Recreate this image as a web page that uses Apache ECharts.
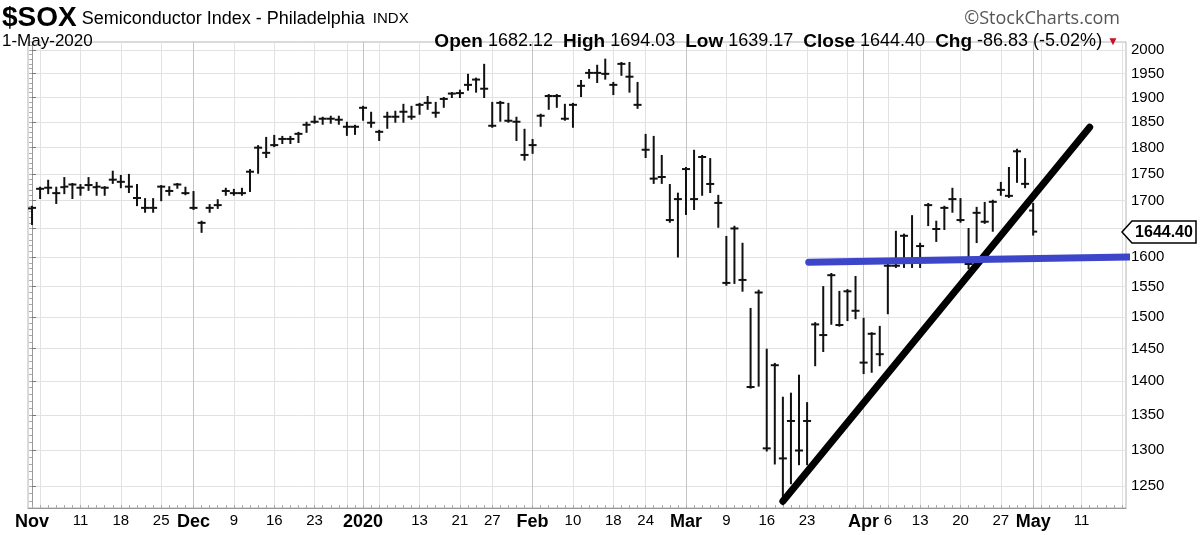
<!DOCTYPE html>
<html>
<head>
<meta charset="utf-8">
<title>$SOX Semiconductor Index</title>
<script src="https://cdn.jsdelivr.net/npm/echarts@6/dist/echarts.min.js"></script>
<style>
html, body { margin: 0; padding: 0; background: #fff; }
#chart { width: 1200px; height: 535px; }
</style>
</head>
<body>
<div id="chart"></div>
<script>
// trading calendar, Nov 1 2019 .. May 1 2020 with data, then empty days up to May 18
const holidays = ['2019-11-28', '2019-12-25', '2020-01-01', '2020-01-20', '2020-02-17', '2020-04-10'];
function tradingDays(from, to) {
    const out = [];
    const d = new Date(from + 'T00:00:00Z');
    const end = new Date(to + 'T00:00:00Z');
    while (d <= end) {
        const s = d.toISOString().slice(0, 10);
        const wd = d.getUTCDay();
        if (wd !== 0 && wd !== 6 && holidays.indexOf(s) < 0) out.push(s);
        d.setUTCDate(d.getUTCDate() + 1);
    }
    return out;
}
const dates = tradingDays('2019-11-01', '2020-05-18');

// daily bars
const open = [1686,1722,1724,1714,1725,1730,1724,1729,1725,1724,1739,1735,1726,1705,1687,1687,1726,1718,1730,1714,
    1687,1660,1687,1692,1718,1714,1714,1754,1800,1790,1805,1817,1817,1827,1845,1851,1857,1857,1855,1841,
    1841,1879,1849,1831,1861,1861,1871,1861,1885,1889,1869,1897,1908,1909,1926,1937,1918,1843,1889,1853,
    1851,1786,1805,1863,1903,1903,1857,1885,1924,1951,1951,1949,1926,1970,1943,1885,1796,1741,1744,1665,
    1703,1759,1703,1782,1731,1696,1556,1650,1561,1391,1540,1302,1424,1288,1341,1299,1341,1488,1471,1569,
    1487,1542,1510,1428,1473,1441,1585,1585,1637,1592,1619,1692,1649,1687,1703,1665,1588,1678,1662,1698,
    1720,1709,1793,1731.23,1682.12];
const high = [1689,1724,1737,1724,1742,1731,1729,1742,1733,1725,1754,1746,1748,1729,1703,1703,1727,1725,1731,1724,
    1716,1662,1692,1701,1722,1720,1722,1757,1803,1819,1823,1821,1821,1829,1849,1861,1859,1861,1861,1849,
    1843,1881,1869,1833,1869,1871,1885,1881,1887,1901,1889,1899,1909,1914,1947,1939,1968,1889,1891,1887,
    1859,1835,1815,1865,1905,1905,1885,1887,1934,1957,1966,1979,1930,1972,1972,1930,1825,1821,1784,1729,
    1713,1761,1794,1784,1778,1709,1635,1653,1623,1513,1543,1448,1426,1375,1381,1408,1367,1490,1549,1571,
    1541,1544,1566,1497,1474,1484,1590,1644,1639,1672,1623,1694,1662,1689,1722,1703,1649,1687,1696,1700,
    1733,1761,1796,1778,1694.03];
const low = [1658,1705,1714,1696,1714,1705,1711,1720,1711,1711,1733,1725,1716,1692,1680,1680,1701,1711,1724,1712,
    1685,1644,1680,1687,1711,1711,1711,1718,1752,1782,1803,1809,1809,1811,1831,1849,1847,1849,1847,1825,
    1827,1855,1841,1815,1839,1851,1851,1857,1867,1877,1861,1881,1901,1901,1916,1912,1901,1841,1853,1851,
    1815,1777,1790,1843,1877,1881,1855,1841,1903,1941,1932,1939,1907,1947,1912,1879,1782,1733,1733,1662,
    1601,1676,1685,1711,1716,1653,1553,1556,1543,1390,1393,1299,1281,1226,1254,1280,1280,1424,1446,1489,
    1486,1495,1498,1412,1414,1424,1506,1583,1583,1583,1583,1656,1628,1649,1680,1662,1581,1626,1660,1646,
    1711,1707,1735,1725,1639.17];
const close = [1687,1722,1724,1714,1726,1730,1724,1729,1726,1724,1739,1735,1726,1705,1687,1687,1726,1718,1730,1714,
    1687,1660,1687,1692,1718,1714,1714,1754,1800,1790,1805,1817,1817,1827,1845,1851,1857,1857,1855,1841,
    1841,1879,1849,1831,1861,1861,1871,1861,1885,1889,1869,1897,1908,1909,1926,1937,1918,1843,1889,1853,
    1851,1786,1805,1863,1903,1903,1857,1885,1924,1951,1951,1949,1926,1970,1943,1885,1796,1741,1744,1665,
    1703,1759,1703,1782,1731,1696,1556,1650,1561,1391,1540,1302,1424,1288,1341,1299,1341,1488,1471,1569,
    1487,1542,1510,1428,1473,1441,1585,1585,1637,1592,1619,1692,1649,1687,1703,1665,1588,1678,1662,1698,
    1720,1709,1793,1731.23,1644.40];

// axis ticks
const priceTicks = [1250,1300,1350,1400,1450,1500,1550,1600,1650,1700,1750,1800,1850,1900,1950,2000];
const priceLabels = [1250,1300,1350,1400,1450,1500,1550,1600,1700,1750,1800,1850,1900,1950,2000];
const dateLabels = [
    ['2019-11-01','Nov'],['2019-11-11','11'],['2019-11-18','18'],['2019-11-25','25'],
    ['2019-12-02','Dec'],['2019-12-09','9'],['2019-12-16','16'],['2019-12-23','23'],
    ['2020-01-02','2020'],['2020-01-13','13'],['2020-01-21','21'],['2020-01-27','27'],
    ['2020-02-03','Feb'],['2020-02-10','10'],['2020-02-18','18'],['2020-02-24','24'],
    ['2020-03-02','Mar'],['2020-03-09','9'],['2020-03-16','16'],['2020-03-23','23'],
    ['2020-04-01','Apr'],['2020-04-06','6'],['2020-04-13','13'],['2020-04-20','20'],['2020-04-27','27'],
    ['2020-05-01','May'],['2020-05-11','11']
];

// hand-drawn trend lines [date, price]
const supportLine = [['2020-03-23', 1591], ['2020-05-18', 1600]];
const trendLine = [['2020-03-18', 1230], ['2020-05-12', 1840]];

const LN = Math.log;
const idx = d => dates.indexOf(d);
const N = dates.length;

// first trading day of each week / month
const weekIdx = [], monthIdx = [];
dates.forEach((d, i) => {
    if (i === 0) { monthIdx.push(0); return; }
    const prev = new Date(dates[i - 1] + 'T00:00:00Z');
    const cur = new Date(d + 'T00:00:00Z');
    if (cur.getUTCDay() < prev.getUTCDay() || (cur - prev) > 4 * 86400000) weekIdx.push(i);
    if (d.slice(5, 7) !== dates[i - 1].slice(5, 7)) monthIdx.push(i);
});
const dayIdx = dates.map((d, i) => i);
const minorPrice = [];
for (let v = 1230; v <= 2010; v += 10) minorPrice.push(v);
const labelText = {};
dateLabels.forEach(p => { labelText[idx(p[0])] = p[1]; });

const bars = close.map((c, i) => [i, LN(open[i]), LN(high[i]), LN(low[i]), LN(c)]);
const last = close.length - 1;
const chg = close[last] - close[last - 1];
const chgPct = chg / close[last - 1] * 100;

function renderBar(params, api) {
    const i = api.value(0);
    const pO = api.coord([i, api.value(1)]);
    const pH = api.coord([i, api.value(2)]);
    const pL = api.coord([i, api.value(3)]);
    const pC = api.coord([i, api.value(4)]);
    const t = 4;
    const style = { stroke: '#111', lineWidth: 2 };
    return {
        type: 'group',
        children: [
            { type: 'line', shape: { x1: pH[0], y1: pH[1] - 1, x2: pL[0], y2: pL[1] + 1 }, style: style },
            { type: 'line', shape: { x1: pO[0] - t, y1: pO[1], x2: pO[0], y2: pO[1] }, style: style },
            { type: 'line', shape: { x1: pC[0], y1: pC[1], x2: pC[0] + t, y2: pC[1] }, style: style }
        ]
    };
}

function renderLastPrice(params, api) {
    const p = api.coord([api.value(0), api.value(1)]);
    const xr = params.coordSys.x + params.coordSys.width;
    const y = Math.round(p[1]);
    return {
        type: 'group',
        children: [
            { type: 'polygon', shape: { points: [[xr - 4, y], [xr + 6, y - 11], [xr + 70, y - 11], [xr + 70, y + 11], [xr + 6, y + 11]] },
              style: { fill: '#fff', stroke: '#000', lineWidth: 1.5 } },
            { type: 'text', style: { x: xr + 38, y: y + 1, text: close[last].toFixed(2), align: 'center', verticalAlign: 'middle',
              font: 'bold 16px "Liberation Sans", Arial, sans-serif', fill: '#000' } }
        ]
    };
}

const chart = echarts.init(document.getElementById('chart'));
const axisFont = '"Liberation Sans", Arial, sans-serif';
const fmt = v => v.toFixed(2);

chart.setOption({
    animation: false,
    backgroundColor: '#fff',
    title: [
        {
            text: '{a|$SOX} {b|Semiconductor Index - Philadelphia} {c|INDX}',
            left: 2, top: 4, padding: 0,
            textStyle: {
                rich: {
                    a: { fontFamily: axisFont, fontSize: 28, fontWeight: 'bold', color: '#000' },
                    b: { fontFamily: axisFont, fontSize: 18, fontWeight: 'normal', color: '#000', padding: [2, 0, 0, 0] },
                    c: { fontFamily: axisFont, fontSize: 15, fontWeight: 'normal', color: '#000', padding: [2, 0, 0, 3] }
                }
            }
        },
        {
            text: '1-May-2020', left: 2, top: 33, padding: 0,
            textStyle: { fontFamily: axisFont, fontSize: 17, fontWeight: 'normal', color: '#000' }
        },
        {
            text: '{k|Open} {v|' + fmt(open[last]) + '}  {k|High} {v|' + fmt(high[last]) + '}  {k|Low} {v|' + fmt(low[last]) +
                '}  {k|Close} {v|' + fmt(close[last]) + '}  {k|Chg} {v|' + fmt(chg) + ' (' + fmt(chgPct) + '%)} {r|▼}',
            right: 76, top: 27,
            textStyle: {
                rich: {
                    k: { fontFamily: axisFont, fontSize: 19, fontWeight: 'bold', color: '#000' },
                    v: { fontFamily: axisFont, fontSize: 18, fontWeight: 'normal', color: '#000' },
                    r: { fontFamily: axisFont, fontSize: 12, fontWeight: 'normal', color: '#c8102e' }
                }
            }
        },
        {
            text: '©StockCharts.com', right: 75, top: 5,
            textStyle: { fontFamily: '"Open Sans", sans-serif', fontSize: 18, fontWeight: 'normal', color: '#555' }
        }
    ],
    grid: { left: 28, right: 74, top: 42, bottom: 27, show: true, borderColor: '#b5b5b5', borderWidth: 1 },
    xAxis: [
        {
            type: 'value', min: -0.5, max: N - 0.5, position: 'bottom',
            axisLine: { show: true, lineStyle: { color: '#999' } },
            axisTick: { show: false, customValues: weekIdx },
            splitLine: { show: true, lineStyle: { color: '#e2e2e2', width: 1 } },
            axisLabel: {
                customValues: dateLabels.map(p => idx(p[0])),
                margin: 5,
                formatter: v => {
                    const s = labelText[Math.round(v)] || '';
                    return /^[A-Z2]/.test(s) && s.length > 2 ? '{b|' + s + '}' : '{n|' + s + '}';
                },
                rich: {
                    b: { fontFamily: axisFont, fontSize: 18, fontWeight: 'bold', color: '#000' },
                    n: { fontFamily: axisFont, fontSize: 15, color: '#000' }
                }
            }
        },
        {
            type: 'value', min: -0.5, max: N - 0.5, position: 'bottom',
            axisLine: { show: false }, axisLabel: { show: false },
            axisTick: { show: false, customValues: monthIdx },
            splitLine: { show: true, lineStyle: { color: '#c4c4c4', width: 1 } }
        },
        {
            type: 'value', min: -0.5, max: N - 0.5, position: 'bottom',
            axisLine: { show: false }, axisLabel: { show: false }, splitLine: { show: false },
            axisTick: { show: true, inside: true, length: 3, customValues: dayIdx, lineStyle: { color: '#aaa' } }
        }
    ],
    yAxis: [
        {
            type: 'value', position: 'right', min: LN(1221), max: LN(2017),
            axisLine: { show: true, lineStyle: { color: '#999' } },
            axisTick: { show: true, length: 4, customValues: priceTicks.map(LN), lineStyle: { color: '#777' } },
            splitLine: { show: true, lineStyle: { color: '#e2e2e2', width: 1 } },
            axisLabel: {
                customValues: priceLabels.map(LN), margin: 5,
                formatter: v => String(Math.round(Math.exp(v))),
                fontFamily: axisFont, fontSize: 15, color: '#000'
            }
        },
        {
            type: 'value', position: 'right', offset: 0, min: LN(1221), max: LN(2017),
            axisLine: { show: false }, axisLabel: { show: false }, splitLine: { show: false },
            axisTick: { show: true, inside: true, length: 3, customValues: minorPrice.map(LN), lineStyle: { color: '#aaa' } }
        }
    ],
    series: [
        {
            name: '$SOX', type: 'custom', xAxisIndex: 0, yAxisIndex: 0,
            renderItem: renderBar, data: bars, encode: { x: 0, y: [1, 2, 3, 4] }, z: 3
        },
        {
            name: 'trend', type: 'line', xAxisIndex: 0, yAxisIndex: 0, symbol: 'none', z: 4,
            data: trendLine.map(p => [idx(p[0]), LN(p[1])]),
            lineStyle: { color: '#000', width: 7, cap: 'round' }
        },
        {
            name: 'support', type: 'line', xAxisIndex: 0, yAxisIndex: 0, symbol: 'none', z: 5, clip: false,
            data: [[idx(supportLine[0][0]) + 0.2, LN(supportLine[0][1])], [idx(supportLine[1][0]) + 0.9, LN(supportLine[1][1])]],
            lineStyle: { color: '#3d46c9', width: 7, cap: 'round' }
        },
        {
            name: 'last', type: 'custom', xAxisIndex: 0, yAxisIndex: 0, z: 6, clip: false,
            renderItem: renderLastPrice, data: [[last, LN(close[last])]]
        }
    ]
});
</script>
</body>
</html>
